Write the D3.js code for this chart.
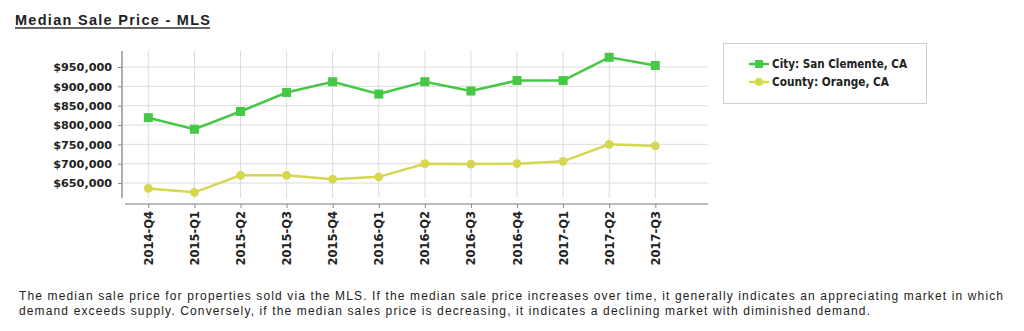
<!DOCTYPE html>
<html>
<head>
<meta charset="utf-8">
<script src="https://cdnjs.cloudflare.com/ajax/libs/d3/7.8.5/d3.min.js"></script>
<style>
  html, body { margin: 0; padding: 0; background: #fff; }
  svg { display: block; }
</style>
</head>
<body>
<script>
const categories = ["2014-Q4","2015-Q1","2015-Q2","2015-Q3","2015-Q4","2016-Q1","2016-Q2","2016-Q3","2016-Q4","2017-Q1","2017-Q2","2017-Q3"];
const cityValues = [819000, 789000, 835000, 884000, 912000, 880000, 912000, 888000, 915000, 915000, 975000, 954000];
const countyValues = [636000, 626000, 670000, 670000, 660000, 666000, 700000, 699000, 700000, 706000, 750000, 746000];
const yTicks = [650000, 700000, 750000, 800000, 850000, 900000, 950000];
const seriesNames = ["City: San Clemente, CA", "County: Orange, CA"];
const titleText = "Median Sale Price - MLS";
const noteLines = [
  "The median sale price for properties sold via the MLS. If the median sale price increases over time, it generally indicates an appreciating market in which",
  "demand exceeds supply. Conversely, if the median sales price is decreasing, it indicates a declining market with diminished demand."
];

const W = 1024, H = 331;
const green = "#45c845", yellow = "#d5d84e";
const svg = d3.select("body").append("svg").attr("width", W).attr("height", H);

// Title
const title = svg.append("text").attr("x", 15).attr("y", 25)
  .attr("font-family", "Liberation Sans, Arial, sans-serif").attr("font-weight", "bold")
  .attr("font-size", 14.5).attr("fill", "#222").text(titleText);
title.attr("textLength", 195).attr("lengthAdjust", "spacing");
svg.append("line").attr("x1", 15).attr("x2", 210).attr("y1", 28).attr("y2", 28)
  .attr("stroke", "#333").attr("stroke-width", 1.3);

// Scales
const x = d3.scalePoint().domain(categories).range([148.3, 655.3]);
const y = d3.scaleLinear().domain([611000, 991000]).range([198.1, 51.15]);

const plotL = 123, plotR = 708, plotT = 51, plotB = 198;

// gridlines
const g = svg.append("g");
g.selectAll("line.hg").data(yTicks).join("line")
  .attr("x1", plotL).attr("x2", plotR).attr("y1", d => y(d)).attr("y2", d => y(d))
  .attr("stroke", "#dcdcdc").attr("stroke-width", 1);
g.selectAll("line.vg").data(categories).join("line")
  .attr("x1", d => x(d)).attr("x2", d => x(d)).attr("y1", plotT).attr("y2", plotB)
  .attr("stroke", "#dcdcdc").attr("stroke-width", 1);

// Y axis
const yAxis = d3.axisLeft(y).tickValues(yTicks).tickSize(4).tickPadding(6)
  .tickFormat(d => "$" + d3.format(",")(d));
const ya = svg.append("g").attr("transform", "translate(122,0)").call(yAxis);
ya.select(".domain").attr("d", `M0,${plotT}V${plotB}`).attr("stroke", "#777").attr("stroke-width", 1.2);
ya.selectAll(".tick line").attr("stroke", "#888");
ya.selectAll(".tick text").attr("font-family", "DejaVu Sans, Verdana, sans-serif")
  .attr("font-weight", "bold").attr("font-size", 11.2).attr("fill", "#222").attr("dy", "0.35em");

// X axis
const xAxis = d3.axisBottom(x).tickSize(4).tickPadding(4);
const xa = svg.append("g").attr("transform", "translate(0,204)").call(xAxis);
xa.select(".domain").attr("d", `M125,0H${plotR}`).attr("stroke", "#777").attr("stroke-width", 1.2);
xa.selectAll(".tick line").attr("stroke", "#888");
xa.selectAll(".tick text")
  .attr("font-family", "DejaVu Sans, Verdana, sans-serif").attr("font-weight", "bold")
  .attr("font-size", 11.5).attr("fill", "#222")
  .attr("transform", "rotate(-90)").attr("text-anchor", "end")
  .attr("x", -7).attr("y", 0).attr("dy", "0.35em");

// Lines
const line = d3.line().x((d, i) => x(categories[i])).y(d => y(d));
svg.append("path").datum(countyValues).attr("d", line).attr("fill", "none")
  .attr("stroke", yellow).attr("stroke-width", 2.5);
svg.selectAll("circle.county").data(countyValues).join("circle")
  .attr("cx", (d, i) => x(categories[i])).attr("cy", d => y(d)).attr("r", 4.4).attr("fill", yellow);
svg.append("path").datum(cityValues).attr("d", line).attr("fill", "none")
  .attr("stroke", green).attr("stroke-width", 2.5);
svg.selectAll("rect.city").data(cityValues).join("rect")
  .attr("x", (d, i) => x(categories[i]) - 4.5).attr("y", d => y(d) - 4.5)
  .attr("width", 9).attr("height", 9).attr("fill", green);

// Legend
svg.append("rect").attr("x", 723.5).attr("y", 43.5).attr("width", 203).attr("height", 60)
  .attr("fill", "#fff").attr("stroke", "#cfcfcf").attr("stroke-width", 1);
const leg = svg.append("g");
const legColors = [green, yellow];
const legW = [135, 117];
seriesNames.forEach((name, i) => {
  const ly = 64 + i * 18;
  leg.append("line").attr("x1", 749).attr("x2", 769).attr("y1", ly).attr("y2", ly)
    .attr("stroke", legColors[i]).attr("stroke-width", 2.5);
  if (i === 0) {
    leg.append("rect").attr("x", 755).attr("y", ly - 4).attr("width", 8).attr("height", 8).attr("fill", green);
  } else {
    leg.append("circle").attr("cx", 759).attr("cy", ly).attr("r", 4).attr("fill", yellow);
  }
  leg.append("text").attr("x", 772).attr("y", ly).attr("dy", "0.35em")
    .attr("font-family", "DejaVu Sans Condensed, DejaVu Sans, sans-serif").attr("font-weight", "bold")
    .attr("font-size", 11.8).attr("fill", "#222")
    .attr("textLength", legW[i]).attr("lengthAdjust", "spacingAndGlyphs").text(name);
});

// Note
const noteW = [984, 851];
noteLines.forEach((t, i) => {
  svg.append("text").attr("x", 19).attr("y", 300 + i * 14.5)
    .attr("font-family", "Liberation Sans, Arial, sans-serif").attr("font-size", 12)
    .attr("fill", "#222").attr("textLength", noteW[i]).attr("lengthAdjust", "spacing").text(t);
});
</script>
</body>
</html>
